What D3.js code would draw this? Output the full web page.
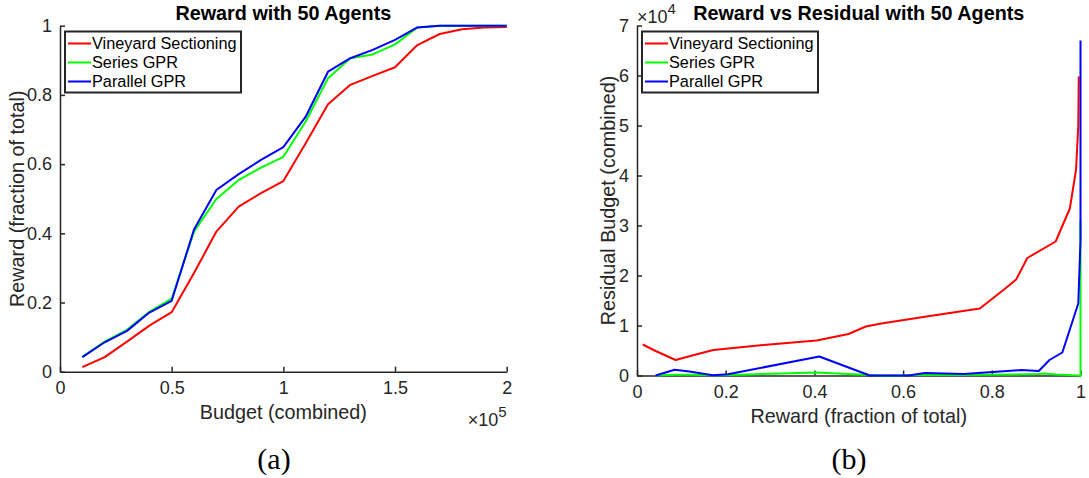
<!DOCTYPE html>
<html>
<head>
<meta charset="utf-8">
<script src="https://cdn.jsdelivr.net/npm/d3@7"></script>
<style>
  html, body { margin: 0; padding: 0; background: #ffffff; }
  svg { display: block; }
  .tick text { font-family: "Liberation Sans", Arial, Helvetica, sans-serif; font-size: 18px; fill: #262626; }
  .domain, .tick line { stroke: #262626; stroke-width: 1.5; }
</style>
</head>
<body>
<svg id="chart" width="1089" height="478"></svg>
<script>
// Combined budget used by the 50 agents (one run every 10k)
const budget = [10000, 20000, 30000, 40000, 50000, 60000, 70000, 80000, 90000, 100000,
                110000, 120000, 130000, 140000, 150000, 160000, 170000, 180000, 190000, 200000];

// Reward collected, as a fraction of the total, for each method
const rewardVineyard = [0.013, 0.042, 0.087, 0.133, 0.172, 0.285, 0.405, 0.477, 0.516, 0.551,
                        0.660, 0.773, 0.829, 0.855, 0.880, 0.944, 0.976, 0.990, 0.995, 0.996];
const rewardSeries   = [0.043, 0.087, 0.121, 0.173, 0.211, 0.405, 0.499, 0.554, 0.590, 0.621,
                        0.723, 0.848, 0.906, 0.917, 0.946, 0.995, 1.000, 1.000, 1.000, 1.000];
const rewardParallel = [0.042, 0.085, 0.118, 0.171, 0.205, 0.411, 0.525, 0.571, 0.612, 0.649,
                        0.737, 0.867, 0.906, 0.930, 0.959, 0.995, 1.000, 1.000, 1.000, 1.000];

// Budget left unused at the end of each run
const residualVineyard = [6200, 4900, 3100, 4200, 5100, 6100, 7000, 8300, 9800, 10400,
                          11900, 13400, 17300, 19200, 23500, 26800, 33400, 41200, 50000, 59800];
const residualSeries   = [0, 150, 150, 50, 100, 600, 200, 0, 0, 100,
                          100, 200, 300, 400, 200, 0, 0, 0, 0, 31000];
const residualParallel = [0, 1150, 800, 50, 250, 3800, 0, 0, 0, 500,
                          300, 1100, 900, 3100, 4600, 14400, 27000, 40000, 53000, 67000];

const seriesNames  = ["Vineyard Sectioning", "Series GPR", "Parallel GPR"];
const seriesColors = ["#ff0000", "#00ff00", "#0000ff"];

const budgetTicks   = [0, 50000, 100000, 150000, 200000];
const rewardTicks   = [0, 0.2, 0.4, 0.6, 0.8, 1];
const residualTicks = [0, 10000, 20000, 30000, 40000, 50000, 60000, 70000];

const SANS = '"Liberation Sans", Arial, Helvetica, sans-serif';
const SERIF = '"Liberation Serif", "Times New Roman", serif';
const INK = "#262626";
const svg = d3.select("#chart");
const fmt = d3.format("~g");

function styleAxis(g) {
  g.select(".domain").attr("stroke", INK).attr("stroke-width", 1.5);
  g.selectAll(".tick line").attr("stroke", INK).attr("stroke-width", 1.5);
  g.selectAll(".tick text").attr("fill", INK).style("font-family", SANS).style("font-size", "18px");
}

function drawLegend(x0, y0) {
  const lg = svg.append("g").attr("transform", `translate(${x0},${y0})`);
  lg.append("rect").attr("width", 176).attr("height", 61)
    .attr("fill", "#ffffff").attr("stroke", INK).attr("stroke-width", 2);
  seriesNames.forEach((name, i) => {
    const cy = 12 + i * 19;
    lg.append("line").attr("x1", 3).attr("x2", 26).attr("y1", cy).attr("y2", cy)
      .attr("stroke", seriesColors[i]).attr("stroke-width", 2);
    lg.append("text").attr("x", 27).attr("y", cy).attr("dy", "0.36em")
      .style("font-family", SANS).style("font-size", "16.3px").attr("fill", "#000")
      .text(name);
  });
}

function exponentLabel(x, y, anchor, power) {
  const t = svg.append("text").attr("x", x).attr("y", y).attr("text-anchor", anchor)
    .style("font-family", SANS).attr("fill", INK);
  t.append("tspan").style("font-size", "18px").text("\u00d710");
  t.append("tspan").style("font-size", "15px").attr("dy", -9).text(power);
}

function drawLines(xs, ys, xScale, yScale) {
  const line = d3.line().x(d => xScale(d[0])).y(d => yScale(d[1]));
  ys.forEach((vals, i) => {
    const xv = Array.isArray(xs[0]) ? xs[i] : xs;
    svg.append("path").datum(vals.map((v, j) => [xv[j], v]))
      .attr("d", line).attr("fill", "none")
      .attr("stroke", seriesColors[i]).attr("stroke-width", 2)
      .attr("stroke-linejoin", "round");
  });
}

function caption(cx, label) {
  svg.append("text").attr("x", cx).attr("y", 469)
    .attr("text-anchor", "middle").style("font-family", SERIF)
    .style("font-size", "30px").attr("fill", "#000").text(label);
}

// ---- (a) Reward vs budget ----
const xA = d3.scaleLinear().domain([0, 200000]).range([60, 506.7]);
const yA = d3.scaleLinear().domain([0, 1]).range([371.7, 25.7]);

svg.append("g").attr("transform", `translate(0,${yA(0)})`)
  .call(d3.axisBottom(xA).tickValues(budgetTicks).tickFormat(d => fmt(d / 1e5))
    .tickSizeInner(-5).tickSizeOuter(0).tickPadding(10))
  .call(styleAxis);
svg.append("g").attr("transform", `translate(${xA(0)},0)`)
  .call(d3.axisLeft(yA).tickValues(rewardTicks).tickFormat(fmt)
    .tickSizeInner(-5).tickSizeOuter(0).tickPadding(8))
  .call(styleAxis);

drawLines(budget, [rewardVineyard, rewardSeries, rewardParallel], xA, yA);

svg.append("text").attr("x", (xA.range()[0] + xA.range()[1]) / 2).attr("y", 20)
  .attr("text-anchor", "middle").style("font-family", SANS).style("font-size", "19.8px")
  .style("font-weight", "bold").attr("fill", "#000").text("Reward with 50 Agents");
svg.append("text").attr("x", (xA.range()[0] + xA.range()[1]) / 2).attr("y", 419)
  .attr("text-anchor", "middle").style("font-family", SANS).style("font-size", "19.8px")
  .attr("fill", INK).text("Budget (combined)");
svg.append("text").attr("transform", `translate(17,${(yA.range()[0] + yA.range()[1]) / 2}) rotate(-90)`)
  .attr("text-anchor", "middle").attr("dy", "0.35em").style("font-family", SANS)
  .style("font-size", "19.8px").attr("fill", INK).text("Reward (fraction of total)");
exponentLabel(xA.range()[1], 426, "end", "5");
drawLegend(65, 31.5);
caption(274, "(a)");

// ---- (b) Residual budget vs reward ----
const xB = d3.scaleLinear().domain([0, 1]).range([637, 1080.5]);
const yB = d3.scaleLinear().domain([0, 70000]).range([375.5, 25.5]);

svg.append("g").attr("transform", `translate(0,${yB(0)})`)
  .call(d3.axisBottom(xB).tickValues(rewardTicks).tickFormat(fmt)
    .tickSizeInner(-5).tickSizeOuter(0).tickPadding(10))
  .call(styleAxis);
svg.append("g").attr("transform", `translate(${xB(0)},0)`)
  .call(d3.axisLeft(yB).tickValues(residualTicks).tickFormat(d => fmt(d / 1e4))
    .tickSizeInner(-5).tickSizeOuter(0).tickPadding(8))
  .call(styleAxis);

drawLines([rewardVineyard, rewardSeries, rewardParallel],
          [residualVineyard, residualSeries, residualParallel], xB, yB);

svg.append("text").attr("x", (xB.range()[0] + xB.range()[1]) / 2).attr("y", 20)
  .attr("text-anchor", "middle").style("font-family", SANS).style("font-size", "19.8px")
  .style("font-weight", "bold").attr("fill", "#000").text("Reward vs Residual with 50 Agents");
svg.append("text").attr("x", (xB.range()[0] + xB.range()[1]) / 2).attr("y", 422.5)
  .attr("text-anchor", "middle").style("font-family", SANS).style("font-size", "19.8px")
  .attr("fill", INK).text("Reward (fraction of total)");
svg.append("text").attr("transform", `translate(608,${(yB.range()[0] + yB.range()[1]) / 2}) rotate(-90)`)
  .attr("text-anchor", "middle").attr("dy", "0.35em").style("font-family", SANS)
  .style("font-size", "19.8px").attr("fill", INK).text("Residual Budget (combined)");
exponentLabel(xB(0), 23, "start", "4");
drawLegend(642, 31.5);
caption(849, "(b)");
</script>
</body>
</html>
